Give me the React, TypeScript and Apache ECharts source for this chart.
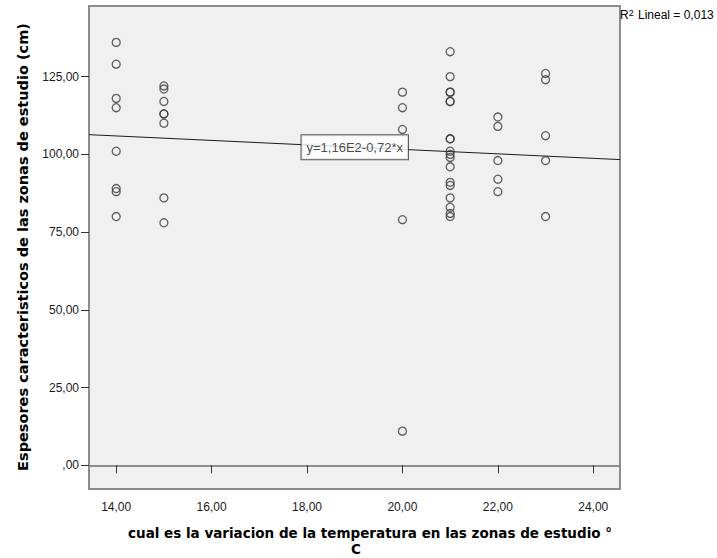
import React, { useEffect, useRef } from "react";
import * as echarts from "echarts";

// Temperature variation (°C) columns and the thickness values (cm) read for each
const temperatures = [14, 15, 20, 21, 22, 23];
const espesores14 = [136, 129, 118, 115, 101, 89, 88, 80];
const espesores15 = [122, 121, 117, 113, 113, 110, 86, 78];
const espesores20 = [120, 115, 108, 79, 11];
const espesores21 = [133, 125, 120, 120, 117, 117, 105, 105, 101, 100, 99, 96, 91, 90, 86, 83, 81, 80];
const espesores22 = [112, 109, 98, 92, 88];
const espesores23 = [126, 124, 106, 98, 80];
const espesoresPorTemperatura = [espesores14, espesores15, espesores20, espesores21, espesores22, espesores23];

const xTicks = [14, 16, 18, 20, 22, 24];
const yTicks = [0, 25, 50, 75, 100, 125];
const xRange = [13.43, 24.56];
const yRange = [-7.6, 147.7];

// Linear fit y = 1,16E2 - 0,72 * x
const fitIntercept = 116;
const fitSlope = -0.72;
const fitLabelX = 19;
const fitLabel = "y=1,16E2-0,72*x";
const r2Value = "0,013";

const xTitle = "cual es la variacion de la temperatura en las zonas de estudio °";
const xTitle2 = "C";
const yTitle = "Espesores caracteristicos de las zonas de estudio (cm)";

const fmt = (v: number) => (v === 0 ? ",00" : v.toFixed(2).replace(".", ","));
const fit = (x: number) => fitIntercept + fitSlope * x;

const FONT = "'Liberation Sans', Arial, sans-serif";
const TITLE_FONT = "'DejaVu Sans', Verdana, sans-serif";

export default function App() {
  const ref = useRef<HTMLDivElement>(null);

  useEffect(() => {
    if (!ref.current) return;
    const chart = echarts.init(ref.current, undefined, { renderer: "svg" });
    const points: number[][] = [];
    temperatures.forEach((t, i) => {
      espesoresPorTemperatura[i].forEach((v) => points.push([t, v]));
    });

    chart.setOption({
      animation: false,
      backgroundColor: "#ffffff",
      grid: {
        left: 89,
        right: 97,
        top: 6,
        bottom: 69,
        show: true,
        backgroundColor: "#f0f0f0",
        borderColor: "#8c8c8c",
        borderWidth: 2,
      },
      xAxis: {
        type: "value",
        min: xRange[0],
        max: xRange[1],
        splitLine: { show: false },
        axisLine: { show: true, lineStyle: { color: "#8c8c8c", width: 2 } },
        axisTick: { show: true, length: 8, customValues: xTicks, lineStyle: { color: "#333", width: 1 } },
        axisLabel: {
          customValues: xTicks,
          formatter: (v: number) => fmt(v),
          color: "#1a1a1a",
          fontSize: 12,
          fontFamily: FONT,
          margin: 12,
        },
      },
      yAxis: {
        type: "value",
        min: yRange[0],
        max: yRange[1],
        splitLine: { show: false },
        axisLine: { show: true, lineStyle: { color: "#8c8c8c", width: 2 } },
        axisTick: { show: true, length: 8, customValues: yTicks, lineStyle: { color: "#333", width: 1 } },
        axisLabel: {
          customValues: yTicks,
          formatter: (v: number) => fmt(v),
          color: "#1a1a1a",
          fontSize: 12,
          fontFamily: FONT,
          margin: 10,
        },
      },
      series: [
        {
          type: "line",
          data: [
            [xRange[0], fit(xRange[0])],
            [xRange[1], fit(xRange[1])],
          ],
          symbol: "none",
          lineStyle: { color: "#1a1a1a", width: 1 },
          z: 2,
        },
        {
          type: "scatter",
          data: points,
          symbol: "circle",
          symbolSize: 8,
          itemStyle: { color: "rgba(0,0,0,0)", borderColor: "#3a3a3a", borderWidth: 1.3 },
          z: 3,
        },
        {
          type: "scatter",
          data: [[fitLabelX, fit(fitLabelX)]],
          symbolSize: 1,
          itemStyle: { color: "rgba(0,0,0,0)" },
          label: {
            show: true,
            position: "inside",
            formatter: fitLabel,
            color: "#1a1a1a",
            fontSize: 13,
            fontFamily: FONT,
            backgroundColor: "#ffffff",
            borderColor: "#333",
            borderWidth: 1,
            padding: [6, 5, 5, 5],
          },
          z: 4,
        },
      ],
      graphic: [
        {
          type: "text",
          left: 620,
          top: 8,
          style: {
            text: "R{sup|2} Lineal = " + r2Value,
            fontSize: 12,
            fontFamily: FONT,
            fill: "#000",
            rich: { sup: { fontSize: 9, verticalAlign: "top", padding: [0, 1, 5, 0], fontFamily: FONT } },
          },
        },
        {
          type: "text",
          x: 370,
          y: 533,
          style: {
            text: xTitle,
            fontSize: 13.5,
            fontWeight: "bold",
            fontFamily: TITLE_FONT,
            fill: "#000",
            textAlign: "center",
            textVerticalAlign: "middle",
          },
        },
        {
          type: "text",
          x: 356,
          y: 549,
          style: {
            text: xTitle2,
            fontSize: 13.5,
            fontWeight: "bold",
            fontFamily: TITLE_FONT,
            fill: "#000",
            textAlign: "center",
            textVerticalAlign: "middle",
          },
        },
        {
          type: "text",
          x: 23,
          y: 247,
          rotation: Math.PI / 2,
          style: {
            text: yTitle,
            fontSize: 14.5,
            fontWeight: "bold",
            fontFamily: TITLE_FONT,
            fill: "#000",
            textAlign: "center",
            textVerticalAlign: "middle",
          },
        },
      ],
    });

    return () => chart.dispose();
  }, []);

  return (
    <div
      ref={ref}
      style={{ position: "absolute", left: 0, top: 0, width: 717, height: 558 }}
    />
  );
}
